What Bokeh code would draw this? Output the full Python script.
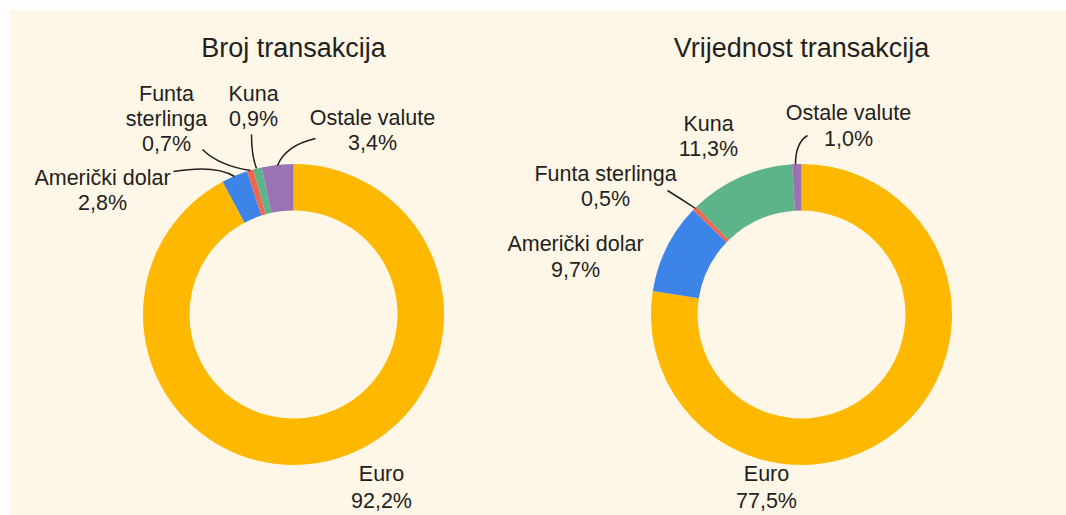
import math
from bokeh.plotting import figure
from bokeh.models import Range1d, ColumnDataSource
from bokeh.core.properties import value
from bokeh.embed import file_html
from bokeh.resources import INLINE

# ---- data ----
currencies = ["Euro", "Američki dolar", "Funta sterlinga", "Kuna", "Ostale valute"]
count_share = [92.2, 2.8, 0.7, 0.9, 3.4]
value_share = [77.5, 9.7, 0.5, 11.3, 1.0]
titles = ["Broj transakcija", "Vrijednost transakcija"]
colors = ["#FFB800", "#3D84E8", "#F2654F", "#5CB48A", "#9B73B4"]

BG = "#FEF6E6"
TXT = "#231F20"
FONT = "Liberation Sans"

W, H = 1066, 515
p = figure(width=W, height=H, x_range=Range1d(0, W), y_range=Range1d(-H, 0),
           output_backend="svg", toolbar_location=None, min_border=0)
p.axis.visible = False
p.grid.visible = False
p.outline_line_color = None
p.background_fill_color = BG
p.border_fill_color = BG

# thin white margins at top and left
p.quad(left=0, right=W, top=0, bottom=-10, fill_color="white", line_color=None)
p.quad(left=0, right=9, top=0, bottom=-H, fill_color="white", line_color=None)

centers = [(293, -314), (801, -314)]
R_OUT, R_IN = 150.5, 104


def wedges(vals, cx, cy):
    starts, ends = [], []
    c = 0.0
    tot = sum(vals)
    for v in vals:
        e = math.pi / 2 - 2 * math.pi * c / tot
        c += v
        s = math.pi / 2 - 2 * math.pi * c / tot
        starts.append(s)
        ends.append(e)
    src = ColumnDataSource(dict(x=[cx] * len(vals), y=[cy] * len(vals), s=starts, e=ends, c=colors))
    p.annular_wedge(x="x", y="y", inner_radius=R_IN, outer_radius=R_OUT, start_angle="s",
                    end_angle="e", fill_color="c", line_color=None, source=src)


for (cx, cy), vals in zip(centers, [count_share, value_share]):
    wedges(vals, cx, cy)


def fmt(v):
    return f"{v:.1f}".replace(".", ",") + "%"


def label(lines, x, y0, size="21.5px", step=25):
    for i, t in enumerate(lines):
        p.text(x=[x], y=[-(y0 + i * step)], text=[t], text_align="center", text_baseline="middle",
               text_font=value(FONT), text_font_size=size, text_color=TXT)


# titles
label([titles[0]], 293, 47, size="27px")
label([titles[1]], 801, 47, size="27px")

# left labels
label([currencies[0], fmt(count_share[0])], 381, 473, step=27)
label([currencies[1], fmt(count_share[1])], 102, 177)
label(["Funta", "sterlinga", fmt(count_share[2])], 166, 93)
label([currencies[3], fmt(count_share[3])], 253, 93)
label([currencies[4], fmt(count_share[4])], 372, 117)

# right labels
label([currencies[0], fmt(value_share[0])], 766, 473, step=27)
label([currencies[1], fmt(value_share[1])], 575, 243, step=26)
label([currencies[2], fmt(value_share[2])], 605, 173)
label([currencies[3], fmt(value_share[3])], 708, 123)
label([currencies[4], fmt(value_share[4])], 848, 112, step=26)

# leader lines (image coords, y down)
leaders = [
    ((173, 171), (234, 176), (215, 164)),
    ((202, 149), (250, 170), (218, 165)),
    ((251, 134), (256, 168), (251, 155)),
    ((315, 138), (277, 165), (285, 145)),
    ((807, 135), (795, 164), (795, 142)),
    ((667, 190), (695, 208), (680, 198)),
]
for (x0, y0), (x1, y1), (qx, qy) in leaders:
    p.quadratic(x0=[x0], y0=[-y0], x1=[x1], y1=[-y1], cx=[qx], cy=[-qy],
                line_color=TXT, line_width=1.5)

open("out.html", "w").write(file_html(p, INLINE))
